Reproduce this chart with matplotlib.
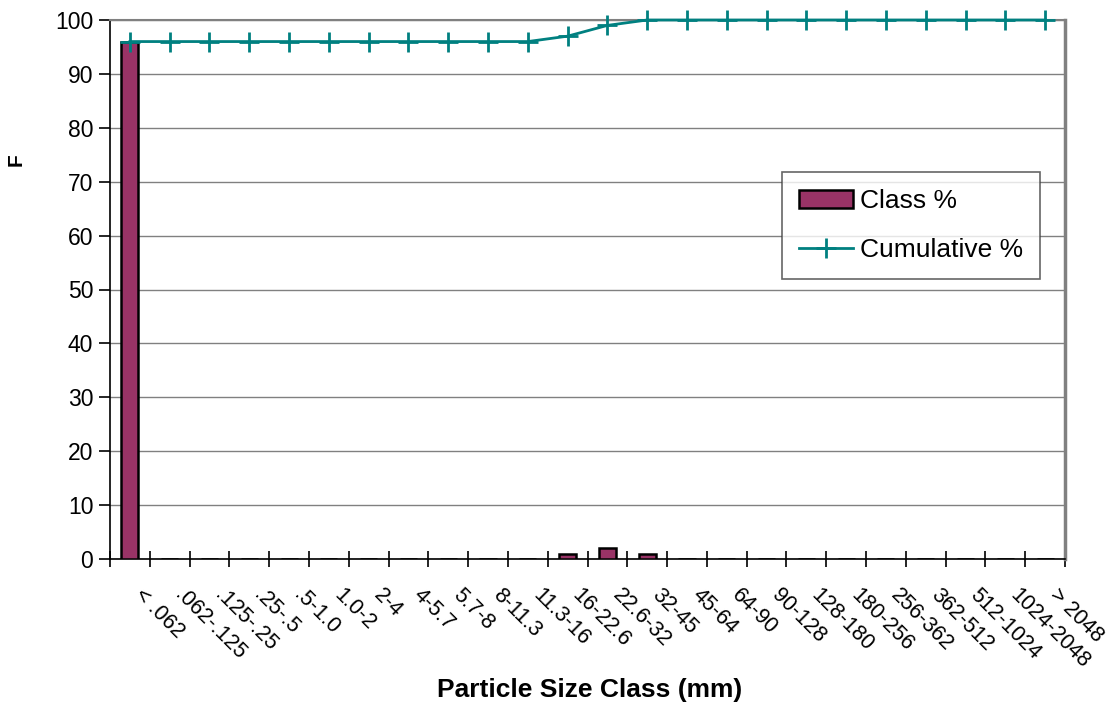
import matplotlib as mpl
mpl.use('Agg')
import matplotlib.pyplot as plt
from matplotlib.transforms import offset_copy
import numpy as np

plt.rcParams['font.family'] = ['Liberation Sans', 'DejaVu Sans']

# particle size classes
klassen = ["< .062", ".062-.125", ".125-.25", ".25-.5", ".5-1.0", "1.0-2", "2-4",
           "4-5.7", "5.7-8", "8-11.3", "11.3-16", "16-22.6", "22.6-32", "32-45",
           "45-64", "64-90", "90-128", "128-180", "180-256", "256-362", "362-512",
           "512-1024", "1024-2048", "> 2048"]
classe_pct = [96, 0, 0, 0, 0, 0, 0, 0, 0, 0, 0, 1, 2, 1, 0, 0, 0, 0, 0, 0, 0, 0, 0, 0]
cumul_pct = [96, 96, 96, 96, 96, 96, 96, 96, 96, 96, 96, 97, 99, 100,
             100, 100, 100, 100, 100, 100, 100, 100, 100, 100]

W, H = 1110, 706
fig = plt.figure(figsize=(W / 100, H / 100), dpi=100)
ax = fig.add_axes([110 / W, 1 - 559 / H, (1065 - 110) / W, (559 - 20) / H])

x = np.arange(len(klassen))
ax.bar(x, classe_pct, width=0.43, color='#993366', edgecolor='black', linewidth=1.8,
       label='Class %', zorder=3)
ax.plot(x, cumul_pct, color='#008080', linewidth=2, marker='+', markersize=14,
        markeredgewidth=2, label='Cumulative %', zorder=4, clip_on=False)

ax.set_xlim(-0.5, len(klassen) - 0.5)
ax.set_ylim(0, 100)
ax.set_yticks(range(0, 101, 10))
ax.yaxis.grid(True, color='#808080', linewidth=1)
ax.set_axisbelow(True)

# tick marks between the classes, labels under the class centres
ax.set_xticks(np.arange(len(klassen) + 1) - 0.5)
ax.set_xticklabels([])
ax.tick_params(axis='x', direction='inout', length=12, width=1.2)
ax.tick_params(axis='y', direction='out', length=8, width=1.2, labelsize=16.5, pad=4)

trans = offset_copy(ax.get_xaxis_transform(), fig=fig, x=8, y=-33, units='dots')
for i, k in enumerate(klassen):
    ax.text(x[i], 0, k, transform=trans, rotation=-45, rotation_mode='anchor',
            ha='left', va='center', fontsize=15.5, clip_on=False)

for s in ['left', 'bottom']:
    ax.spines[s].set_color('black')
    ax.spines[s].set_linewidth(1.2)
ax.spines['top'].set_color('#808080')
ax.spines['top'].set_linewidth(1.5)
ax.spines['right'].set_color('#808080')
ax.spines['right'].set_linewidth(2.5)

handles, labels = ax.get_legend_handles_labels()
leg = ax.legend(handles[::-1], labels[::-1], loc='upper left',
                bbox_to_anchor=((782 - 110) / (1065 - 110), 1 - (172 - 20) / (559 - 20)),
                fontsize=19, frameon=True, fancybox=False, edgecolor='#404040',
                handlelength=2.05, handleheight=0.7, borderpad=0.65, labelspacing=0.95,
                handletextpad=0.25, borderaxespad=0)
leg.get_frame().set_linewidth(1.2)

fig.text(590 / W, 1 - 690 / H, 'Particle Size Class (mm)', ha='center', va='center',
         fontsize=19, fontweight='bold')
fig.text(16 / W, 1 - 160 / H, 'F', rotation=90, ha='center', va='center',
         fontsize=15, fontweight='bold')

fig.savefig('out.png', dpi=100)
